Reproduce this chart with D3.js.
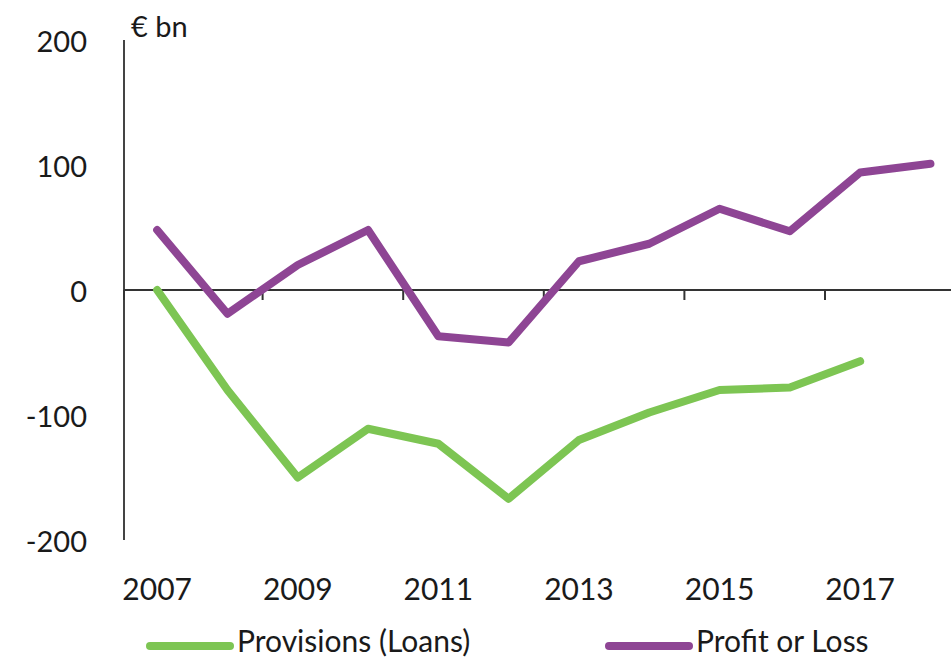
<!DOCTYPE html>
<html>
<head>
<meta charset="utf-8">
<script src="https://cdn.jsdelivr.net/npm/d3@7"></script>
<style>
  body { margin: 0; background: #fff; }
  text { font-family: Lato, "Open Sans", sans-serif; fill: #1a1a1a; }
</style>
</head>
<body>
<svg id="chart" width="951" height="658"></svg>
<script>
const years = [2007, 2008, 2009, 2010, 2011, 2012, 2013, 2014, 2015, 2016, 2017, 2018];
const provisions = [0, -80, -150, -111, -123, -167, -120, -98, -80, -78, -57, null];
const profit = [48, -19, 20, 48, -37, -42, 23, 37, 65, 47, 94, 101];
const yTicks = [200, 100, 0, -100, -200];
const xLabels = [2007, 2009, 2011, 2013, 2015, 2017];

const green = "#7dc553";
const purple = "#8e4594";

let svg = d3.select("#chart");

let x = d3.scaleBand()
    .domain(years)
    .range([122, 122 + 70.3 * years.length]);

let y = d3.scaleLinear()
    .domain([-200, 200])
    .range([540, 40]);

// y axis line
svg.append("line")
    .attr("x1", 124).attr("x2", 124)
    .attr("y1", y(200)).attr("y2", y(-200))
    .attr("stroke", "#444").attr("stroke-width", 2);

svg.selectAll(".ylab")
    .data(yTicks)
    .enter().append("text")
    .attr("x", 87)
    .attr("y", d => y(d))
    .attr("text-anchor", "end")
    .attr("dominant-baseline", "central")
    .style("font-size", "29px")
    .text(d => d);

svg.append("text")
    .attr("x", 131).attr("y", 37)
    .style("font-size", "29px")
    .text("€ bn");

// x axis at zero
svg.append("line")
    .attr("x1", 124).attr("x2", 951)
    .attr("y1", y(0)).attr("y2", y(0))
    .attr("stroke", "#333").attr("stroke-width", 2);

let tickYears = years.filter((d, i) => i % 2 === 1);
svg.selectAll(".xtick")
    .data([years[0]].concat(tickYears))
    .enter().append("line")
    .attr("x1", (d, i) => i === 0 ? 124 : x(d) + x.bandwidth())
    .attr("x2", (d, i) => i === 0 ? 124 : x(d) + x.bandwidth())
    .attr("y1", y(0)).attr("y2", y(0) + 10)
    .attr("stroke", "#333").attr("stroke-width", 2);

svg.selectAll(".xlab")
    .data(xLabels)
    .enter().append("text")
    .attr("x", d => x(d) + x.bandwidth() / 2)
    .attr("y", 600)
    .attr("text-anchor", "middle")
    .style("font-size", "30px")
    .text(d => d);

let line = d3.line()
    .defined(d => d[1] !== null)
    .x(d => x(d[0]) + x.bandwidth() / 2)
    .y(d => y(d[1]));

svg.append("path")
    .datum(years.map((d, i) => [d, provisions[i]]))
    .attr("d", line)
    .attr("fill", "none")
    .attr("stroke", green)
    .attr("stroke-width", 8)
    .attr("stroke-linecap", "round")
    .attr("stroke-linejoin", "round");

svg.append("path")
    .datum(years.map((d, i) => [d, profit[i]]))
    .attr("d", line)
    .attr("fill", "none")
    .attr("stroke", purple)
    .attr("stroke-width", 8)
    .attr("stroke-linecap", "round")
    .attr("stroke-linejoin", "round");

// legend
let legend = [
    {name: "Provisions (Loans)", color: green, x: 147},
    {name: "Profit or Loss", color: purple, x: 606}
];
let lg = svg.selectAll(".leg")
    .data(legend)
    .enter().append("g");
lg.append("line")
    .attr("x1", d => d.x + 3).attr("x2", d => d.x + 83)
    .attr("y1", 646).attr("y2", 646)
    .attr("stroke", d => d.color)
    .attr("stroke-width", 8)
    .attr("stroke-linecap", "round");
lg.append("text")
    .attr("x", d => d.x + 90)
    .attr("y", 652)
    .style("font-size", "30px")
    .text(d => d.name);
</script>
</body>
</html>
